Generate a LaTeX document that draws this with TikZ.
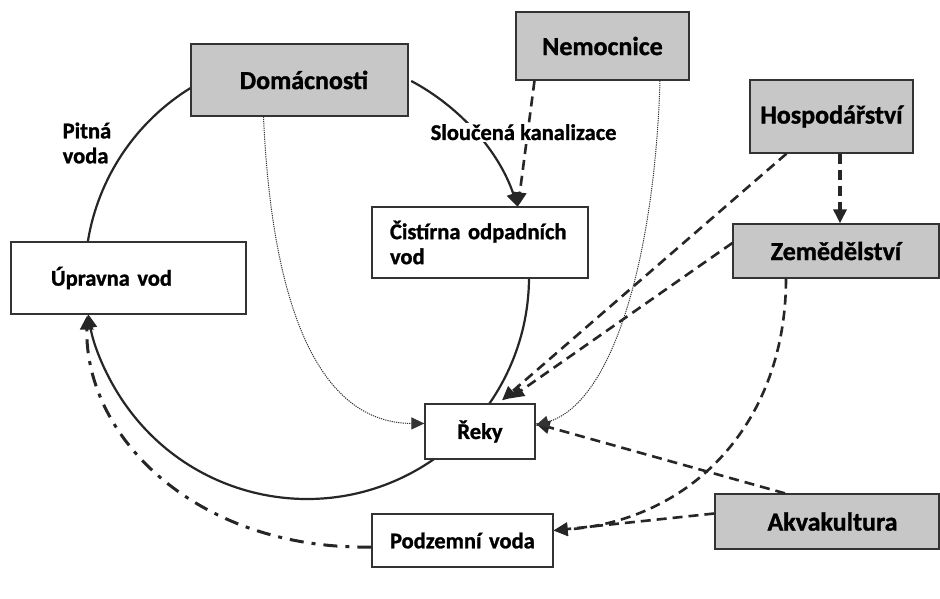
\documentclass[tikz,border=0pt]{standalone}
\usepackage{fontspec}
\setmainfont{Carlito}[BoldFeatures={FakeBold=1.2}]
\usetikzlibrary{arrows.meta,calc}
\begin{document}
\begin{tikzpicture}[x=1pt,y=-1pt,
 box/.style={draw=black!80,line width=1.3pt,fill=white,inner sep=0pt,font=\bfseries\fontsize{22.5}{25}\selectfont},
 gbox/.style={box,fill=black!22,font=\bfseries\fontsize{26}{30}\selectfont},
 lab/.style={font=\bfseries\fontsize{22.5}{25}\selectfont,inner sep=1.5pt,fill=white},
 ring/.style={line width=2.2pt,black!85},
 dsh/.style={line width=2.6pt,black!85,dash pattern=on 10pt off 6pt},
 dot/.style={line width=1pt,black!80,dash pattern=on 1.2pt off 1pt},
 dashdot/.style={line width=3pt,black!85,dash pattern=on 14pt off 8pt on 4pt off 8pt},
 tip/.style={-{Triangle[length=14pt,width=13pt]}},
 stip/.style={-{Triangle[length=13pt,width=12pt]}}
]
\useasboundingbox (0,0) rectangle (940,599);
\fill[white] (0,0) rectangle (940,599);
\coordinate (c) at (307,277);
% ring arcs
\draw[ring] ($(c)+(-121.5:222)$) arc[start angle=-121.5,end angle=-171,radius=222];
\draw[ring,tip] ($(c)+(-62:222)$) arc[start angle=-62,end angle=-18.4,radius=222];
\draw[ring] ($(c)+(0:222)$) arc[start angle=0,end angle=34.9,radius=222];
\draw[ring,tip] ($(c)+(55.1:222)$) arc[start angle=55.1,end angle=170.4,radius=222];

% nodes
\node[gbox,minimum width=217pt,minimum height=72pt,text width=217pt,align=center] (dom) at (299.5,80) {\hspace*{9pt}Domácnosti};
\node[gbox,minimum width=173pt,minimum height=68pt,text width=173pt,align=center] (nem) at (602.5,46) {Nemocnice\hspace*{7pt}};
\node[gbox,minimum width=163pt,minimum height=73pt,text width=163pt,align=center] (hos) at (831.5,116.5) {Hospodářství};
\node[gbox,minimum width=206pt,minimum height=54pt,text width=206pt,align=center] (zem) at (836,251) {Zemědělství};
\node[gbox,minimum width=224pt,minimum height=55pt,text width=224pt,align=center] (akv) at (827,521.5) {\hspace*{11pt}Akvakultura};
\node[box,minimum width=216pt,minimum height=71pt,text width=216pt,align=left] (cis) at (480,242.5) {\hspace*{18pt}Čistírna odpadních\\\hspace*{18pt}vod};
\node[box,minimum width=235pt,minimum height=72pt,text width=235pt,align=left] (upr) at (128.5,278) {\hspace*{40pt}Úpravna vod};
\node[box,minimum width=110pt,minimum height=55pt,text width=110pt,align=center] (rek) at (480,431.5) {Řeky};
\node[box,minimum width=181pt,minimum height=53pt,text width=181pt,align=left] (pod) at (462.5,540.5) {\hspace*{18pt}Podzemní voda};

% dashed connectors
\draw[dsh,tip] ($(nem.south)+(-68,0)$) -- ($(cis.north)+(38,0)$);
\draw[dsh,tip] ($(hos.south)+(-45,0)$) -- ($(rek.north)+(22,-3)$);
\draw[dsh,tip] ($(zem.west)+(0,-8)$) -- ($(rek.north)+(30,-5)$);
\draw[dsh,line width=3.2pt,tip] ($(hos.south)+(8.5,0)$) -- ($(zem.north)+(4,0)$);
\draw[dsh,tip] ($(zem.south)+(-50,0)$) .. controls (786,420) and (695,520) .. ($(pod.east)+(0,-10)$);
\draw[dsh,tip] ($(akv.north)+(-42,0)$) -- ($(rek.east)+(0,-8)$);
\draw[dsh,tip] ($(akv.west)+(0,-8)$) -- ($(pod.east)+(0,-10)$);

% dotted connectors
\draw[dot,stip] ($(dom.south)+(-36,0)$) .. controls (272,310) and (320,423) .. ($(rek.west)+(0,-8)$);
\draw[dot,stip] ($(nem.south)+(57.5,0)$) .. controls (655,250) and (615,402) .. ($(rek.east)+(0,-6)$);

% dash-dot connector
\draw[dashdot,tip] ($(pod.west)+(0,6.5)$) .. controls (200,550) and (85,440) .. ($(upr.south)+(-41.5,1)$);

% labels
\node[lab,anchor=west,align=left,fill=none] (pit) at (61,143) {Pitná\\voda};
\node[lab,anchor=base west] (slo) at (429,140) {Sloučená kanalizace};
\end{tikzpicture}
\end{document}
